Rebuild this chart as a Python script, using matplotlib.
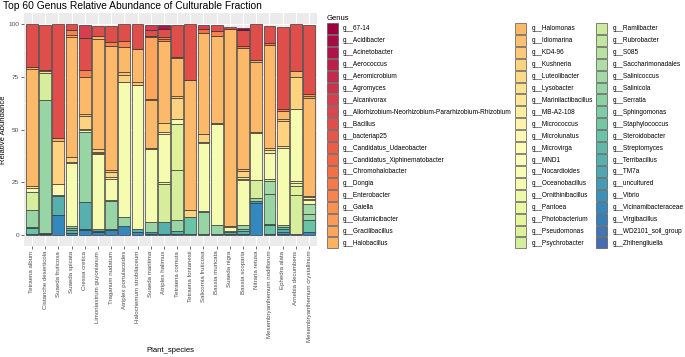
import numpy as np
import matplotlib
matplotlib.use("Agg")
import matplotlib.pyplot as plt
from matplotlib.colors import LinearSegmentedColormap
from matplotlib.patches import Patch

plt.rcParams['font.family'] = ['Liberation Sans', 'DejaVu Sans']

species = ["Tetraena album", "Cistanche deserticola", "Suaeda fruticosa", "Suaeda spicata",
           "Cressa cretica", "Limoniastrum guyonianum", "Traganum nudatum", "Atriplex portulacoides",
           "Halocnemum strobilaceum", "Suaeda maritima", "Atriplex halimus", "Tetraena cornuta",
           "Tetraena fontanesii", "Salicornia fruticosa", "Bassia muricata", "Suaeda nigra",
           "Bassia scoparia", "Nitraria retusa", "Mesembryanthemum nodiflorum", "Ephedra alata",
           "Arnebia decumbens", "Mesembryanthemum crystallinum"]

genera = ["67-14", "Acidibacter", "Acinetobacter", "Aerococcus", "Aeromicrobium", "Agromyces",
          "Alcanivorax", "Allorhizobium-Neorhizobium-Pararhizobium-Rhizobium", "Bacillus",
          "bacteriap25", "Candidatus_Udaeobacter", "Candidatus_Xiphinematobacter",
          "Chromohalobacter", "Dongia", "Enterobacter", "Gaiella", "Glutamicibacter",
          "Gracilibacillus", "Halobacillus",
          "Halomonas", "Idiomarina", "KD4-96", "Kushneria", "Luteolibacter", "Lysobacter",
          "Marinilactibacillus", "MB-A2-108", "Micrococcus", "Microlunatus", "Microvirga", "MND1",
          "Nocardioides", "Oceanobacillus", "Ornithinibacillus", "Pantoea", "Photobacterium",
          "Pseudomonas", "Psychrobacter",
          "Ramlibacter", "Rubrobacter", "S085", "Saccharimonadales", "Salinicoccus", "Salinicola",
          "Serratia", "Sphingomonas", "Staphylococcus", "Steroidobacter", "Streptomyces",
          "Terribacillus", "TM7a", "uncultured", "Vibrio", "Vicinamibacteraceae", "Virgibacillus",
          "WD2101_soil_group", "Zhihengliuella"]

# relative abundance (%) per plant species, same order as `species`
g_67_14 =          [0, 0, 0, 0, 0, 0, 0, 0, 0, 0, 0, 0, 0, 0, 0, 0, 0.6, 0, 0, 0, 0, 0]
acidibacter =      [0, 0, 0, 0, 0, 0, 0, 0, 0, 0, 0, 0, 0, 0, 0, 0, 0.4, 0, 0, 0, 0, 0]
acinetobacter =    [0, 0, 0, 0, 0, 0, 0, 0, 0, 0, 1.6, 0, 0, 0, 0, 0, 0, 0, 0, 0, 0, 0]
alcanivorax =      [0, 0, 0, 0, 6.0, 0, 0, 0, 0, 2.2, 0, 0, 0, 1.6, 0, 0, 0, 0, 0, 0, 0, 0]
bacillus =         [20.5, 21.0, 54.0, 3.1, 14.8, 4.7, 7.2, 8.0, 12.0, 2.9, 3.9, 15.3, 26.6, 0, 2.7, 1.1, 7.6, 17.4, 7.8, 38.8, 22.2, 32.6]
chromohalobacter = [0, 0, 0, 0, 0, 0, 0, 0, 0, 0, 0, 0, 0, 1.9, 0, 0, 0, 0, 0, 0, 0, 0]
dongia =           [0, 0, 0, 0, 0, 0, 0, 0, 0, 0.5, 0.8, 0, 0, 0, 0, 0, 0.8, 0, 0.8, 0.6, 0, 0]
enterobacter =     [0, 0, 0, 2.4, 3.6, 0, 1.9, 3.2, 0, 0, 0.8, 0, 0, 0, 2.7, 0, 0, 0, 0, 0, 0, 0]
glutamicibacter =  [0, 0, 0, 0, 0, 0, 0, 0, 0, 0, 0, 0, 0, 0, 0, 0, 0, 0, 0, 0, 0, 0.8]
gracilibacillus =  [0, 0, 0, 0, 0, 0, 0, 0, 0, 29.4, 0, 0.5, 0, 0, 0, 0, 0, 0, 0, 0, 0, 1.3]
halobacillus =     [1.0, 0.8, 1.6, 0.8, 0, 1.2, 0, 0, 0, 0.3, 0, 0, 0, 0, 0, 0, 0, 0.7, 0, 0, 0, 0]
halomonas =        [55.0, 0, 0, 56.6, 17.6, 51.9, 58.8, 11.8, 15.7, 22.9, 38.7, 18.0, 61.6, 47.6, 41.0, 93.1, 57.1, 33.1, 49.0, 3.8, 3.1, 45.9]
idiomarina =       [0, 0, 0, 0, 0.8, 0, 0.8, 1.3, 1.3, 0.6, 0, 0.8, 0, 0, 0.6, 0, 0.7, 0, 0, 1.3, 0, 0]
kushneria =        [0, 0, 19.9, 2.4, 6.0, 1.5, 2.4, 3.2, 0, 0, 4.7, 9.8, 3.2, 3.7, 0, 0.5, 3.2, 0.6, 1.0, 11.8, 15.0, 0.8]
lysobacter =       [0, 0.8, 0, 0, 0, 0, 0, 0, 0, 0, 0, 0, 0, 0, 0, 0, 0, 0, 0, 0, 0, 0]
marinilactibacillus = [1.3, 0, 0, 0.6, 0, 0.6, 0, 0, 0, 0, 0, 0, 0, 0.9, 0, 0, 0.6, 0, 1.0, 0.8, 0, 0]
mb_a2_108 =        [0, 0, 0, 0, 0, 0.6, 0.8, 0, 0, 0, 0, 0, 0, 0, 0, 0, 0.5, 0, 0, 0, 0, 0]
micrococcus =      [0, 0, 0, 0, 0, 0, 0, 0, 0, 0, 0.8, 0, 0, 0, 0, 0, 0, 0, 0, 0, 0, 0]
microlunatus =     [1.7, 0, 5.5, 0, 0.7, 0, 0, 0, 0, 0, 0, 0, 0, 0, 0, 0, 0, 0, 0, 0, 0, 0.8]
nocardioides =     [0, 0, 0, 0, 0, 0, 0, 0, 0, 0, 0, 0, 0, 0, 0, 0, 0, 0, 0, 0, 0, 0.4]
oceanobacillus =   [0, 0, 0, 29.6, 0.8, 35.1, 9.9, 64.0, 67.9, 34.3, 22.8, 2.3, 0, 32.1, 47.7, 1.9, 21.4, 22.2, 12.4, 36.2, 33.8, 1.9]
ornithinibacillus = [0, 0, 0, 0, 0, 0, 0, 0, 0, 0, 0, 0, 0, 0, 0, 0, 0, 0, 0, 0, 1.2, 0]
pantoea =          [0, 0, 0, 0, 0, 0, 0, 0, 0, 0, 0.6, 0, 0, 0, 0, 0, 0, 0, 0, 0, 1.2, 0]
pseudomonas =      [0, 0, 0, 0, 0, 0, 0.6, 0, 0, 0, 0, 22.0, 0, 0.3, 0, 0, 0, 0, 0, 0, 4.4, 0]
psychrobacter =    [8.3, 12.9, 0, 0, 0, 0, 0, 0, 0, 0, 18.1, 23.2, 0, 0, 0, 0, 0, 8.3, 0.9, 0, 18.4, 0]
salinicoccus =     [0, 0, 0, 0, 0, 0, 0, 0, 0, 0, 0, 0, 0, 0, 0, 0, 0, 0, 6.3, 0, 0, 4.7]
salinicola =       [8.2, 62.4, 0, 1.2, 33.0, 0, 13.1, 3.9, 0, 4.7, 0, 5.6, 0, 10.2, 3.9, 0.6, 1.9, 1.6, 14.2, 1.0, 0, 3.1]
staphylococcus =   [0.5, 0, 0.6, 0, 0, 0, 0, 0, 0, 0, 0, 0, 0, 0, 0, 0, 0.8, 0, 0.6, 0, 0, 0]
steroidobacter =   [2.6, 0, 0, 0.8, 0, 0, 0, 0, 0, 0, 0, 0, 7.8, 0, 0, 0, 0, 0, 3.9, 1.0, 0, 5.5]
terribacillus =    [0, 0, 8.6, 1.2, 12.6, 0.8, 0.8, 0, 1.6, 0, 5.5, 1.1, 0.8, 0, 0, 0.7, 1.4, 0, 0, 1.5, 0, 0]
uncultured =       [0, 0, 0, 0, 0.8, 0.8, 0, 0, 0, 0.8, 0, 0, 0, 0, 0, 0, 0, 0.8, 0, 0.7, 0, 0]
vicinamibacteraceae = [0.9, 0.8, 9.8, 1.3, 2.4, 1.5, 2.4, 4.6, 1.5, 0.8, 0.8, 0.8, 0, 0, 0, 0, 0, 15.3, 0, 0, 0, 1.6]
zhihengliuella =   [0, 0.5, 0, 0, 0, 0, 0, 0, 0, 0, 0, 0, 0, 0.8, 0.8, 0.7, 0.8, 0, 0.8, 0.8, 0.7, 0]

abundance = {
    "67-14": g_67_14, "Acidibacter": acidibacter, "Acinetobacter": acinetobacter,
    "Alcanivorax": alcanivorax, "Bacillus": bacillus, "Chromohalobacter": chromohalobacter,
    "Dongia": dongia, "Enterobacter": enterobacter, "Glutamicibacter": glutamicibacter,
    "Gracilibacillus": gracilibacillus, "Halobacillus": halobacillus, "Halomonas": halomonas,
    "Idiomarina": idiomarina, "Kushneria": kushneria, "Lysobacter": lysobacter,
    "Marinilactibacillus": marinilactibacillus, "MB-A2-108": mb_a2_108, "Micrococcus": micrococcus,
    "Microlunatus": microlunatus, "Nocardioides": nocardioides, "Oceanobacillus": oceanobacillus,
    "Ornithinibacillus": ornithinibacillus, "Pantoea": pantoea, "Pseudomonas": pseudomonas,
    "Psychrobacter": psychrobacter, "Salinicoccus": salinicoccus, "Salinicola": salinicola,
    "Staphylococcus": staphylococcus, "Steroidobacter": steroidobacter,
    "Terribacillus": terribacillus, "uncultured": uncultured,
    "Vicinamibacteraceae": vicinamibacteraceae, "Zhihengliuella": zhihengliuella,
}

# Spectral ramp of 60 colours, first 57 used (one per genus)
spectral = ["#9E0142", "#D53E4F", "#F46D43", "#FDAE61", "#FEE08B", "#FFFFBF",
            "#E6F598", "#ABDDA4", "#66C2A5", "#3288BD", "#5E4FA2"]
cmap = LinearSegmentedColormap.from_list("spec", spectral)
colors = [cmap(v) for v in np.linspace(0, 1, 60)[:len(genera)]]

fig = plt.figure(figsize=(6.85, 3.57), dpi=100)
ax = fig.add_axes([24 / 685, 1 - 246 / 357, 293 / 685, 233 / 357])
ax.set_facecolor("#EBEBEB")

x = np.arange(len(species))
bottom = np.zeros(len(species))
# ggplot stacks the first factor level on top: draw from the last genus upward
for i in range(len(genera) - 1, -1, -1):
    vals = abundance.get(genera[i])
    if vals is None:
        continue
    vals = np.array(vals, dtype=float)
    m = vals > 0
    ax.bar(x[m], vals[m], bottom=bottom[m], width=0.9, color=colors[i],
           edgecolor="#2b2b2b", linewidth=0.45, zorder=3)
    bottom += vals

ax.set_xlim(-0.6, len(species) - 0.4)
ax.set_ylim(-5, 105)
ax.set_yticks([0, 25, 50, 75, 100])
ax.set_yticks([12.5, 37.5, 62.5, 87.5], minor=True)
ax.set_xticks(x)
ax.set_xticklabels(species, rotation=90, fontsize=4.4, color="#4D4D4D")
ax.tick_params(axis="y", labelsize=4.6, labelcolor="#4D4D4D", length=2, width=0.5,
               color="#333333", pad=1.5)
ax.tick_params(axis="x", length=2, width=0.5, color="#333333", pad=1.5)
ax.tick_params(which="minor", length=0)
ax.grid(which="major", color="white", linewidth=0.8, zorder=0)
ax.grid(which="minor", axis="y", color="white", linewidth=0.4, zorder=0)
ax.set_axisbelow(True)
for s in ax.spines.values():
    s.set_visible(False)

ax.set_xlabel("Plant_species", fontsize=5.5, labelpad=3.5)
ax.set_ylabel("Relative Abundance", fontsize=5.5)
ax.yaxis.set_label_coords(-0.058, 0.5)
fig.text(3 / 685, 1 - 6 / 357, "Top 60 Genus Relative Abundance of Culturable Fraction",
         fontsize=7.4, va="center", ha="left")

handles = [Patch(facecolor=c, edgecolor="#555555", linewidth=0.5) for c in colors]
labels = ["g__" + g for g in genera]
leg = fig.legend(handles, labels, ncol=3, loc="upper left",
                 bbox_to_anchor=(327 / 685, 1 - 15 / 357), frameon=False,
                 fontsize=4.7, title="Genus", title_fontsize=5.5, alignment="left",
                 handlelength=1.65, handleheight=2.2, handletextpad=0.8,
                 labelspacing=0.15, columnspacing=0.55, borderpad=0, borderaxespad=0)

fig.savefig("out.png", dpi=100)
